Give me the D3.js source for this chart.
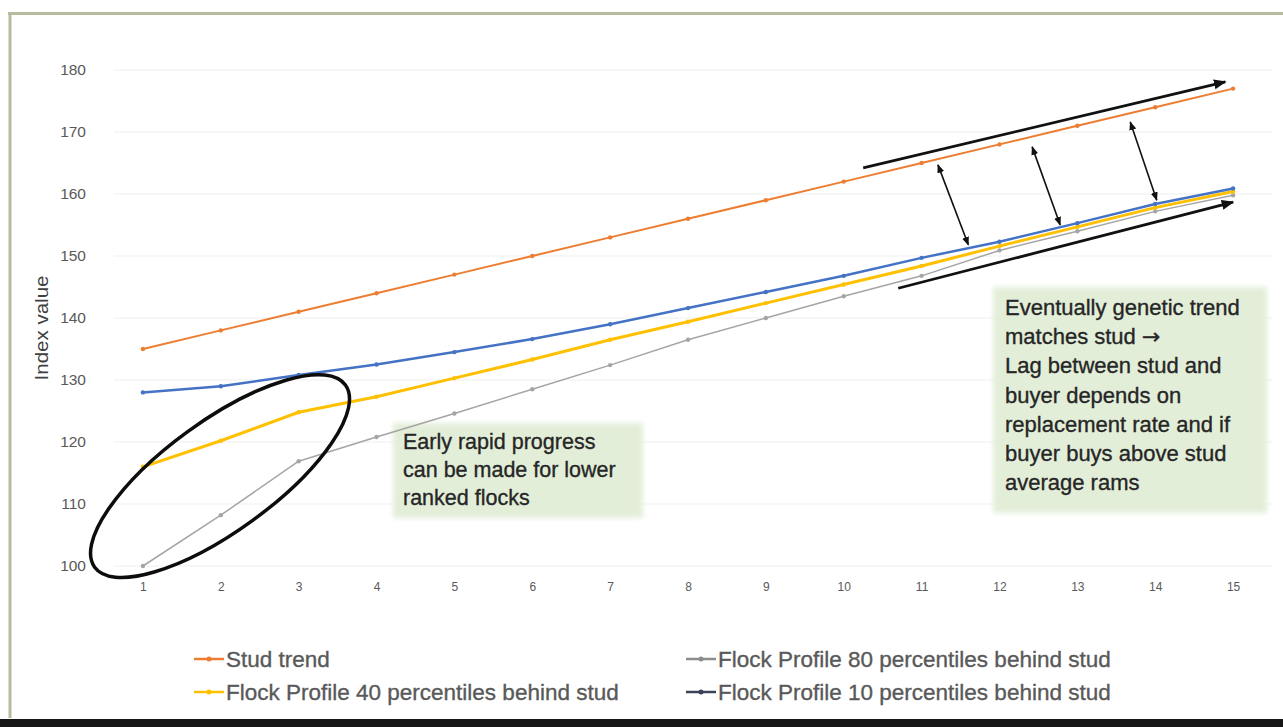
<!DOCTYPE html>
<html>
<head>
<meta charset="utf-8">
<script src="https://cdn.jsdelivr.net/npm/d3@7"></script>
<style>
  html, body { margin: 0; padding: 0; background: #ffffff; }
  svg { display: block; }
  text { font-family: "Liberation Sans", Arial, sans-serif; }
</style>
</head>
<body>
<svg id="chart" width="1283" height="727"></svg>
<script>
// Period labels along the x axis
const periods = [1, 2, 3, 4, 5, 6, 7, 8, 9, 10, 11, 12, 13, 14, 15];
// Index value ticks
const yTicks = [100, 110, 120, 130, 140, 150, 160, 170, 180];

// Series values per period
const studTrend = [135, 138, 141, 144, 147, 150, 153, 156, 159, 162, 165, 168, 171, 174, 177];
const flock80 = [100, 108.2, 116.9, 120.8, 124.6, 128.5, 132.4, 136.5, 140, 143.5, 146.8, 150.9, 154, 157.2, 159.8];
const flock40 = [116, 120.2, 124.8, 127.3, 130.3, 133.3, 136.5, 139.4, 142.4, 145.4, 148.4, 151.6, 154.7, 157.8, 160.4];
const flock10 = [128, 129, 130.8, 132.5, 134.5, 136.6, 139, 141.6, 144.2, 146.8, 149.7, 152.3, 155.3, 158.4, 160.9];

const seriesNames = [
  "Stud trend",
  "Flock Profile 80 percentiles behind stud",
  "Flock Profile 40 percentiles behind stud",
  "Flock Profile 10 percentiles behind stud"
];

const series = [
  { name: seriesNames[0], values: studTrend, color: "#ED7D31", width: 2, legendColor: "#ED7D31" },
  { name: seriesNames[1], values: flock80, color: "#A5A5A5", width: 1.5, legendColor: "#8c8c8c" },
  { name: seriesNames[2], values: flock40, color: "#FFC000", width: 3, legendColor: "#FFC000" },
  { name: seriesNames[3], values: flock10, color: "#4472C4", width: 2.5, legendColor: "#3b4356" }
];

// Annotation text (a trailing arrow glyph is drawn a little larger)
const earlyNote = ["Early rapid progress", "can be made for lower", "ranked flocks"];
const lagNote = [
  { t: "Eventually genetic trend" },
  { t: "matches stud ", arrow: "\u2192" },
  { t: "Lag between stud and" },
  { t: "buyer depends on" },
  { t: "replacement rate and if" },
  { t: "buyer buys above stud" },
  { t: "average rams" }
];

// Trend arrows and gap arrows, in chart units (period, index value)
const trendArrows = [
  { x1: 10.25, y1: 164.2, x2: 14.9, y2: 178.1 },
  { x1: 10.7, y1: 144.8, x2: 15.0, y2: 158.7 }
];
const gapArrows = [
  { x1: 11.21, y1: 164.7, x2: 11.6, y2: 151.8 },
  { x1: 12.42, y1: 167.6, x2: 12.78, y2: 155.0 },
  { x1: 13.68, y1: 171.6, x2: 14.02, y2: 159.0 }
];
// Ring around the early periods
const earlyRing = { x: 1.99, y: 114.5 };

const svg = d3.select("#chart");
const W = 1283, H = 727;

// Squeeze or stretch text horizontally by a factor
function condense(sel, k) {
  sel.each(function () {
    const len = this.getComputedTextLength();
    d3.select(this).attr("textLength", len * k).attr("lengthAdjust", "spacingAndGlyphs");
  });
}

const defs = svg.append("defs");
defs.append("filter").attr("id", "soft").attr("x", "-5%").attr("y", "-5%").attr("width", "110%").attr("height", "110%")
  .append("feGaussianBlur").attr("stdDeviation", 2.5);
defs.append("marker")
  .attr("id", "headBig")
  .attr("viewBox", "0 0 10 10")
  .attr("refX", 9).attr("refY", 5)
  .attr("markerWidth", 4.5).attr("markerHeight", 4.5)
  .attr("markerUnits", "strokeWidth")
  .attr("orient", "auto")
  .append("path").attr("d", "M0,1 L10,5 L0,9 Z").attr("fill", "#111");
defs.append("marker")
  .attr("id", "headSmall")
  .attr("viewBox", "0 0 10 10")
  .attr("refX", 9).attr("refY", 5)
  .attr("markerWidth", 5.5).attr("markerHeight", 5.5)
  .attr("markerUnits", "strokeWidth")
  .attr("orient", "auto-start-reverse")
  .append("path").attr("d", "M0,1 L10,5 L0,9 Z").attr("fill", "#111");

// Frame
svg.append("rect").attr("x", 0).attr("y", 0).attr("width", W).attr("height", H).attr("fill", "#fff");
svg.append("line").attr("x1", 8).attr("x2", W).attr("y1", 13.5).attr("y2", 13.5)
  .attr("stroke", "#b7bc9f").attr("stroke-width", 3);
svg.append("line").attr("x1", 10).attr("x2", 10).attr("y1", 12).attr("y2", 718)
  .attr("stroke", "#b7bc9f").attr("stroke-width", 3);
svg.append("rect").attr("x", 0).attr("y", 719).attr("width", W).attr("height", 8).attr("fill", "#161616");

// Scales
const x = d3.scaleLinear().domain([0.5, 15.5]).range([104, 1272]);
const y = d3.scaleLinear().domain([100, 180]).range([566, 70]);

// Gridlines
svg.append("g").selectAll("line").data(yTicks).join("line")
  .attr("x1", x(0.5) + 10).attr("x2", x(15.5))
  .attr("y1", d => y(d)).attr("y2", d => y(d))
  .attr("stroke", "#f4f4f4").attr("stroke-width", 1.5);

// Green note boxes
svg.append("rect").attr("x", 393).attr("y", 423).attr("width", 250).attr("height", 95)
  .attr("fill", "#e3eed9").attr("filter", "url(#soft)");
svg.append("rect").attr("x", 993).attr("y", 287).attr("width", 274).attr("height", 226)
  .attr("fill", "#e3eed9").attr("filter", "url(#soft)");

// Axes
const yAxis = svg.append("g").attr("transform", `translate(${x(0.5)},0)`)
  .call(d3.axisLeft(y).tickValues(yTicks).tickSize(0).tickPadding(18));
yAxis.select(".domain").remove();
yAxis.selectAll("text").attr("font-size", 15.5).attr("fill", "#595959")
  .attr("font-family", "'Liberation Sans', Arial, sans-serif");

const xAxis = svg.append("g").attr("transform", `translate(0,${y(100)})`)
  .call(d3.axisBottom(x).tickValues(periods).tickFormat(d3.format("d")).tickSize(0).tickPadding(16));
xAxis.select(".domain").remove();
xAxis.selectAll("text").attr("font-size", 12).attr("fill", "#595959")
  .attr("font-family", "'Liberation Sans', Arial, sans-serif");

// Axis title
svg.append("text")
  .attr("transform", `translate(48,${(y(180) + y(100)) / 2 + 10}) rotate(-90)`)
  .attr("text-anchor", "middle")
  .attr("font-size", 19).attr("fill", "#404040")
  .text("Index value")
  .call(condense, 1.08);

// Series lines and markers
const line = d3.line().x((d, i) => x(periods[i])).y(d => y(d));
const seriesG = svg.append("g").selectAll("g").data(series).join("g");
seriesG.append("path")
  .attr("d", d => line(d.values))
  .attr("fill", "none")
  .attr("stroke", d => d.color)
  .attr("stroke-width", d => d.width)
  .attr("stroke-linejoin", "round");
seriesG.selectAll("circle").data(d => d.values.map((v, i) => ({ v, i, c: d.color }))).join("circle")
  .attr("cx", d => x(periods[d.i])).attr("cy", d => y(d.v))
  .attr("r", 2.2).attr("fill", d => d.c);

// Ring around early periods
svg.append("ellipse")
  .attr("cx", 0).attr("cy", 0).attr("rx", 155).attr("ry", 55)
  .attr("transform", `translate(${x(earlyRing.x)},${y(earlyRing.y)}) rotate(-36)`)
  .attr("fill", "none").attr("stroke", "#0d0d0d").attr("stroke-width", 3.5);

// Arrows
svg.append("g").selectAll("line").data(trendArrows).join("line")
  .attr("x1", d => x(d.x1)).attr("y1", d => y(d.y1))
  .attr("x2", d => x(d.x2)).attr("y2", d => y(d.y2))
  .attr("stroke", "#111").attr("stroke-width", 2.8)
  .attr("marker-end", "url(#headBig)");
svg.append("g").selectAll("line").data(gapArrows).join("line")
  .attr("x1", d => x(d.x1)).attr("y1", d => y(d.y1))
  .attr("x2", d => x(d.x2)).attr("y2", d => y(d.y2))
  .attr("stroke", "#111").attr("stroke-width", 1.6)
  .attr("marker-start", "url(#headSmall)")
  .attr("marker-end", "url(#headSmall)");

// Note text
svg.append("g").selectAll("text").data(earlyNote).join("text")
  .attr("x", 403).attr("y", (d, i) => 449 + i * 28)
  .attr("font-size", 21.5).attr("fill", "#262626")
  .attr("stroke", "#262626").attr("stroke-width", 0.35)
  .text(d => d);
const lagText = svg.append("g").selectAll("text").data(lagNote).join("text")
  .attr("x", 1005).attr("y", (d, i) => 315 + i * 29.2)
  .attr("font-size", 22).attr("fill", "#262626")
  .attr("stroke", "#262626").attr("stroke-width", 0.35);
lagText.append("tspan").text(d => d.t);
lagText.filter(d => d.arrow).append("tspan")
  .attr("font-family", "'DejaVu Sans', sans-serif")
  .attr("font-size", 22)
  .text(d => d.arrow);

// Legend: entries fill rows left to right
const legendPos = [
  { sx: 194, ty: 659 },
  { sx: 686, ty: 659 },
  { sx: 194, ty: 692 },
  { sx: 686, ty: 692 }
];
const legend = svg.append("g").selectAll("g").data(series).join("g")
  .attr("transform", (d, i) => `translate(${legendPos[i].sx},${legendPos[i].ty})`);
legend.append("line").attr("x1", 0).attr("x2", 30).attr("y1", 0).attr("y2", 0)
  .attr("stroke", d => d.legendColor).attr("stroke-width", 2.5);
legend.append("circle").attr("cx", 15).attr("cy", 0).attr("r", 2.5).attr("fill", d => d.legendColor);
legend.append("text").attr("x", 32).attr("y", 8)
  .attr("font-size", 22.5).attr("fill", "#595959")
  .attr("stroke", "#595959").attr("stroke-width", 0.35)
  .text(d => d.name);
</script>
</body>
</html>
